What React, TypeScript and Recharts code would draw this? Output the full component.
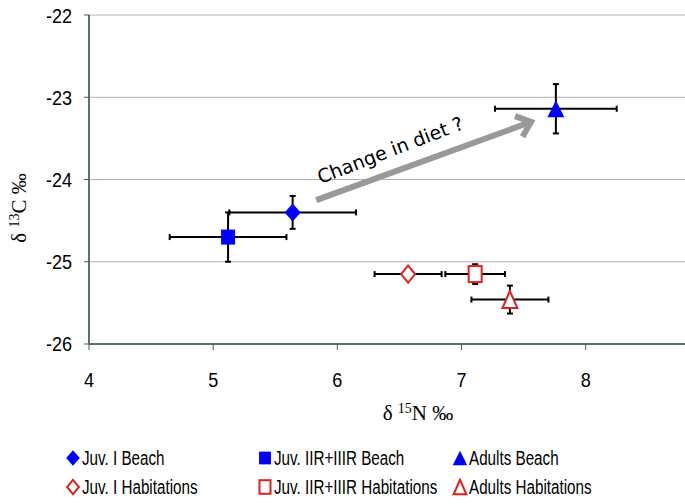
import React from "react";
import {
  ScatterChart,
  Scatter,
  XAxis,
  YAxis,
  CartesianGrid,
  ErrorBar,
  ReferenceLine,
} from "recharts";

// groups, in legend order (row 1 = beach, row 2 = habitations)
const groups = [
  "Juv. I Beach",
  "Juv. IIR+IIIR Beach",
  "Adults Beach",
  "Juv. I Habitations",
  "Juv. IIR+IIIR Habitations",
  "Adults Habitations",
];
const kinds = ["diamond", "square", "triangle", "diamond", "square", "triangle"];
const filled = [true, true, true, false, false, false];

// mean values and +/- error
const n15 = [5.64, 5.12, 7.76, 6.57, 7.11, 7.39];
const c13 = [-24.4, -24.7, -23.14, -25.15, -25.15, -25.46];
const n15Err = [0.51, 0.47, 0.49, 0.27, 0.24, 0.31];
const c13Err = [0.2, 0.3, 0.3, 0, 0.12, 0.17];

const xTicks = [4, 5, 6, 7, 8];
const yTicks = [-26, -25, -24, -23, -22];

// annotation arrow, data coordinates
const arrowFrom = { x: 5.83, y: -24.25 };
const arrowTo = { x: 7.56, y: -23.3 };
const arrowText = "Change in diet ?";

const BLUE = "#0000ff";
const RED = "#dd2222";
const AXIS = "#587070";
const SANS = '"Liberation Sans", Arial, sans-serif';
const SERIF = '"Liberation Serif", "Times New Roman", serif';

const Marker = ({ cx, cy, kind, solid, small }: any) => {
  const color = solid ? BLUE : RED;
  const fill = solid ? BLUE : "#fff";
  const sw = solid ? 0 : 2;
  const k = small ? 0.85 : 1;
  if (kind === "diamond") {
    const w = (solid ? 8 : 7) * k;
    const h = (solid ? 9 : 8.5) * k;
    return (
      <polygon
        points={`${cx},${cy - h} ${cx + w},${cy} ${cx},${cy + h} ${cx - w},${cy}`}
        fill={fill}
        stroke={color}
        strokeWidth={sw}
      />
    );
  }
  if (kind === "square") {
    const w = (solid ? 7 : 6.5) * k;
    const h = (solid ? 7.5 : 8) * k;
    return (
      <rect x={cx - w} y={cy - h} width={2 * w} height={2 * h} fill={fill} stroke={color} strokeWidth={sw} />
    );
  }
  const w = (solid ? 8.5 : 7.5) * k;
  const h = 8.5 * k;
  return (
    <polygon
      points={`${cx},${cy - h} ${cx + w},${cy + h} ${cx - w},${cy + h}`}
      fill={fill}
      stroke={color}
      strokeWidth={sw}
      strokeLinejoin="miter"
    />
  );
};

const ArrowShape = (p: any) => {
  const { x1, y1, x2, y2 } = p;
  const ang = Math.atan2(y2 - y1, x2 - x1);
  const head = 17;
  const spread = 0.7;
  const ax = x2 - head * Math.cos(ang - spread);
  const ay = y2 - head * Math.sin(ang - spread);
  const bx = x2 - head * Math.cos(ang + spread);
  const by = y2 - head * Math.sin(ang + spread);
  const ex = x2 - 4 * Math.cos(ang);
  const ey = y2 - 4 * Math.sin(ang);
  const t = 0.38;
  const off = 15;
  const tx = x1 + (x2 - x1) * t + off * Math.sin(ang);
  const ty = y1 + (y2 - y1) * t - off * Math.cos(ang);
  const deg = (ang * 180) / Math.PI;
  return (
    <g>
      <line x1={x1} y1={y1} x2={ex} y2={ey} stroke="#999" strokeWidth={6} />
      <polyline
        points={`${ax},${ay} ${x2},${y2} ${bx},${by}`}
        fill="none"
        stroke="#999"
        strokeWidth={6}
        strokeLinejoin="miter"
      />
      <text
        x={tx}
        y={ty}
        textAnchor="middle"
        transform={`rotate(${deg - 1}, ${tx}, ${ty})`}
        fontFamily='"DejaVu Sans", Verdana, sans-serif'
        fontSize={19}
        fill="#000"
      >
        {arrowText}
      </text>
    </g>
  );
};

// narrow tick labels: Arial-like face squeezed horizontally
const YTick = ({ x, y, payload }: any) => (
  <text
    x={x}
    y={y}
    textAnchor="end"
    dominantBaseline="central"
    fontFamily={SANS}
    fontSize={21}
    fill="#000"
    transform={`translate(${x},0) scale(0.86,1) translate(${-x},0)`}
  >
    {payload.value}
  </text>
);

const XTick = ({ x, y, payload }: any) => (
  <text
    x={x}
    y={y}
    dy="0.71em"
    textAnchor="middle"
    fontFamily={SANS}
    fontSize={21}
    fill="#000"
    transform={`translate(${x},0) scale(0.86,1) translate(${-x},0)`}
  >
    {payload.value}
  </text>
);

const XTitle = ({ viewBox }: any) => {
  const x = viewBox.x + viewBox.width / 2 + 31;
  const y = viewBox.y + 76;
  return (
    <text x={x} y={y} textAnchor="middle" fontFamily={SERIF} fontSize={21} fill="#000">
      <tspan>δ </tspan>
      <tspan fontSize={14} dy={-7}>15</tspan>
      <tspan dy={7}>N ‰</tspan>
    </text>
  );
};

const YTitle = () => {
  const x = 26;
  const y = 208;
  return (
    <text
      x={x}
      y={y}
      textAnchor="middle"
      transform={`rotate(-90, ${x}, ${y})`}
      fontFamily={SERIF}
      fontSize={21}
      fill="#000"
    >
      <tspan>δ </tspan>
      <tspan fontSize={14} dy={-7}>13</tspan>
      <tspan dy={7}>C ‰</tspan>
    </text>
  );
};

const legendCols = [73, 265, 460];
const legendRows = [458, 487];

const App = () => {
  const series = groups.map((name, i) => ({
    name,
    kind: kinds[i],
    solid: filled[i],
    data: [{ x: n15[i], y: c13[i], ex: n15Err[i], ey: c13Err[i] }],
  }));

  return (
    <div style={{ position: "absolute", left: 0, top: 0, width: 685, height: 504, background: "#fff" }}>
      <ScatterChart width={685} height={504} margin={{ top: 15, right: 0, bottom: 120, left: 0 }}>
        <CartesianGrid vertical={false} stroke="#b0b0b0" />
        <XAxis
          type="number"
          dataKey="x"
          domain={[4, 8.8]}
          ticks={xTicks}
          allowDataOverflow
          height={40}
          tickSize={6}
          tickMargin={22}
          axisLine={{ stroke: AXIS, strokeWidth: 2 }}
          tickLine={{ stroke: "#555" }}
          tick={<XTick />}
          label={<XTitle />}
        />
        <YAxis
          type="number"
          dataKey="y"
          domain={[-26, -22]}
          ticks={yTicks}
          width={89}
          tickSize={5}
          tickMargin={12}
          axisLine={{ stroke: AXIS, strokeWidth: 2 }}
          tickLine={{ stroke: "#555" }}
          tick={<YTick />}
        />
        <ReferenceLine segment={[arrowFrom, arrowTo]} shape={ArrowShape} />
        {series.map((s) => (
          <Scatter
            key={s.name}
            name={s.name}
            data={s.data}
            isAnimationActive={false}
            shape={(p: any) => <Marker cx={p.cx} cy={p.cy} kind={s.kind} solid={s.solid} />}
          >
            <ErrorBar dataKey="ex" direction="x" width={3} stroke="#000" strokeWidth={2} />
            <ErrorBar dataKey="ey" direction="y" width={3} stroke="#000" strokeWidth={2} />
          </Scatter>
        ))}
        <YTitle />
      </ScatterChart>
      {series.map((s, i) => {
        const cx = legendCols[i % 3];
        const cy = legendRows[Math.floor(i / 3)];
        return (
          <div
            key={s.name}
            style={{
              position: "absolute",
              left: cx - 8,
              top: cy - 12,
              height: 24,
              display: "flex",
              alignItems: "center",
              fontFamily: SANS,
              fontSize: 19.5,
              whiteSpace: "nowrap",
              color: "#000",
            }}
          >
            <svg width={16} height={18} style={{ display: "block" }}>
              <Marker cx={8} cy={9} kind={s.kind} solid={s.solid} small />
            </svg>
            <span
              style={{
                display: "inline-block",
                marginLeft: 1,
                transform: "scaleX(0.78)",
                transformOrigin: "left center",
              }}
            >
              {s.name}
            </span>
          </div>
        );
      })}
    </div>
  );
};

export default App;
